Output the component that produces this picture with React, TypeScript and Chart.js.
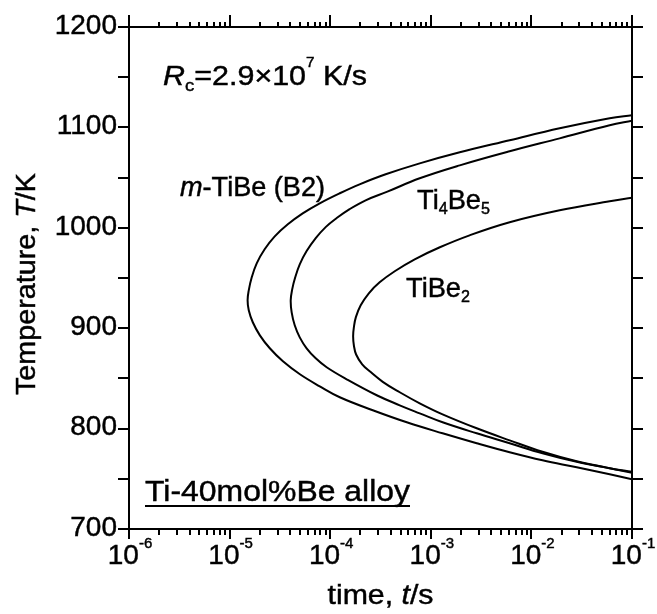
import React, { useEffect, useRef } from "react";
import { Chart, registerables } from "chart.js";

Chart.register(...registerables);

// ---- Data (time in s, temperature in K) ----
// m-TiBe (B2): upper branch (long time -> nose) then lower branch (nose -> long time)
const b2Time = [0.1, 0.06, 0.0191, 0.00608, 0.00194, 7.76e-4, 3.56e-4, 1.96e-4, 1.245e-4, 7.87e-5, 5.33e-5, 3.79e-5, 2.81e-5, 2.23e-5, 1.86e-5, 1.66e-5, 1.55e-5, 1.51e-5, 1.55e-5, 1.7e-5, 2.0e-5, 2.51e-5, 3.39e-5, 5.0e-5, 7.87e-5, 1.245e-4, 2.65e-4, 5.77e-4, 1.31e-3, 2.86e-3, 6.08e-3, 0.0129, 0.0282, 0.06, 0.1];
const b2Temp = [1112.1, 1109.1, 1099.1, 1087.2, 1075.2, 1064.2, 1053.3, 1043.3, 1034.4, 1024.4, 1014.4, 1003.5, 991.5, 978.6, 964.6, 950.7, 937.7, 927.8, 917.8, 905.9, 892.9, 880.0, 867.0, 854.1, 842.1, 831.2, 818.3, 806.3, 795.3, 785.4, 776.4, 768.4, 761.5, 754.5, 749.5];

// Ti4Be5
const ti4be5Time = [0.1, 0.06, 0.0191, 0.00608, 0.00194, 7.76e-4, 3.7e-4, 2.25e-4, 1.56e-4, 1.16e-4, 9.01e-5, 7.18e-5, 5.83e-5, 4.98e-5, 4.49e-5, 4.19e-5, 4.05e-5, 4.14e-5, 4.44e-5, 4.98e-5, 5.83e-5, 7.18e-5, 9.22e-5, 1.46e-4, 2.9e-4, 4.91e-4, 7.76e-4, 1.31e-3, 2.86e-3, 6.08e-3, 0.0129, 0.0282, 0.06, 0.1];
const ti4be5Temp = [1106.6, 1102.1, 1089.1, 1076.2, 1062.2, 1049.3, 1036.0, 1027.4, 1018.6, 1009.7, 1000.7, 989.7, 976.8, 963.6, 950.7, 938.7, 927.8, 915.8, 902.9, 890.9, 880.0, 870.0, 861.1, 849.1, 833.2, 823.2, 815.2, 806.3, 795.3, 785.4, 775.4, 766.9, 760.5, 756.0];

// TiBe2
const tibe2Time = [0.1, 0.06, 0.0191, 0.00608, 0.00243, 0.00123, 6.92e-4, 4.38e-4, 3.1e-4, 2.42e-4, 2.01e-4, 1.8e-4, 1.72e-4, 1.69e-4, 1.72e-4, 1.81e-4, 2.08e-4, 2.47e-4, 3.33e-4, 4.91e-4, 7.76e-4, 1.31e-3, 2.86e-3, 6.08e-3, 0.0129, 0.0282, 0.06, 0.1];
const tibe2Temp = [1029.9, 1026.4, 1017.4, 1005.5, 992.5, 980.6, 968.6, 956.7, 945.7, 934.8, 922.8, 911.0, 901.0, 892.0, 882.8, 873.8, 864.0, 857.1, 846.6, 836.2, 825.2, 814.2, 800.3, 788.3, 776.9, 767.4, 760.5, 756.9];

// ---- Axes ----
const xMin = 1e-6;
const xMax = 1e-1;
const xDecades = [-6, -5, -4, -3, -2, -1];
const yMin = 700;
const yMax = 1200;
const yMajorTicks = [700, 800, 900, 1000, 1100, 1200];
const yMinorTicks = [750, 850, 950, 1050, 1150];

const FONT = '"Liberation Sans", Arial, Helvetica, sans-serif';
const TEXT_STROKE = 0.45;

type Part = { text: string; size: number; italic?: boolean; dy?: number };

function setFont(ctx: CanvasRenderingContext2D, p: Part) {
  ctx.font = `${p.italic ? "italic " : ""}${p.size}px ${FONT}`;
}

function partsWidth(ctx: CanvasRenderingContext2D, parts: Part[]) {
  let w = 0;
  for (const p of parts) {
    setFont(ctx, p);
    w += ctx.measureText(p.text).width;
  }
  return w;
}

function drawParts(
  ctx: CanvasRenderingContext2D,
  parts: Part[],
  x: number,
  y: number,
  targetWidth?: number
) {
  const natural = partsWidth(ctx, parts);
  const sx = targetWidth ? targetWidth / natural : 1;
  ctx.save();
  ctx.translate(x, y);
  ctx.scale(sx, 1);
  ctx.textAlign = "left";
  ctx.textBaseline = "alphabetic";
  ctx.lineWidth = TEXT_STROKE;
  let cx = 0;
  for (const p of parts) {
    setFont(ctx, p);
    ctx.fillText(p.text, cx, p.dy || 0);
    ctx.strokeText(p.text, cx, p.dy || 0);
    cx += ctx.measureText(p.text).width;
  }
  ctx.restore();
  return natural * sx;
}

const decorPlugin = {
  id: "decor",
  afterDatasetsDraw(chart: any) {
    const { ctx, chartArea: a, scales } = chart;
    const xs = scales.x;
    const ys = scales.y;
    ctx.save();
    ctx.strokeStyle = "#000";
    ctx.fillStyle = "#000";
    ctx.lineWidth = 2;
    ctx.lineCap = "butt";

    // frame
    ctx.strokeRect(a.left, a.top, a.right - a.left, a.bottom - a.top);

    // ticks
    ctx.beginPath();
    for (const v of [...yMajorTicks, ...yMinorTicks]) {
      const py = Math.round(ys.getPixelForValue(v));
      ctx.moveTo(a.left - 11, py);
      ctx.lineTo(a.left, py);
      ctx.moveTo(a.right, py);
      ctx.lineTo(a.right + 11, py);
    }
    for (const d of xDecades) {
      for (let m = 1; m <= 9; m++) {
        const v = m * Math.pow(10, d);
        if (v > xMax * 1.0001) break;
        const px = Math.round(xs.getPixelForValue(v));
        const major = m === 1;
        ctx.moveTo(px, a.bottom);
        ctx.lineTo(px, a.bottom + (major ? 10 : 6));
        ctx.moveTo(px, a.top);
        ctx.lineTo(px, a.top - (major ? 12 : 5));
      }
    }
    ctx.stroke();

    // y tick labels
    ctx.font = `28px ${FONT}`;
    ctx.textAlign = "right";
    ctx.textBaseline = "middle";
    ctx.lineWidth = TEXT_STROKE;
    for (const v of yMajorTicks) {
      const py = ys.getPixelForValue(v) - 1;
      ctx.fillText(String(v), a.left - 12, py);
      ctx.strokeText(String(v), a.left - 12, py);
    }
    ctx.lineWidth = 2;

    // x tick labels 10^n
    for (const d of xDecades) {
      const parts: Part[] = [
        { text: "10", size: 28 },
        { text: String(d), size: 15, dy: -16 },
      ];
      const w = partsWidth(ctx, parts);
      const px = xs.getPixelForValue(Math.pow(10, d));
      drawParts(ctx, parts, px - w / 2 + 1, a.bottom + 35);
    }

    // axis titles
    drawParts(
      ctx,
      [
        { text: "time, ", size: 27 },
        { text: "t", size: 27, italic: true },
        { text: "/s", size: 27 },
      ],
      (a.left + a.right) / 2 - 53,
      604,
      106
    );
    ctx.save();
    ctx.translate(35, 284);
    ctx.rotate(-Math.PI / 2);
    drawParts(
      ctx,
      [
        { text: "Temperature, ", size: 27 },
        { text: "T", size: 27, italic: true },
        { text: "/K", size: 27 },
      ],
      -111,
      0,
      222
    );
    ctx.restore();

    // annotations
    drawParts(
      ctx,
      [
        { text: "R", size: 28, italic: true },
        { text: "c", size: 17, dy: 6 },
        { text: "=2.9×10", size: 28 },
        { text: "7", size: 14, dy: -18 },
        { text: " K/s", size: 28 },
      ],
      163,
      85,
      204
    );
    drawParts(
      ctx,
      [
        { text: "m", size: 27, italic: true },
        { text: "-TiBe (B2)", size: 27 },
      ],
      180,
      196,
      145
    );
    drawParts(
      ctx,
      [
        { text: "Ti", size: 27 },
        { text: "4", size: 16, dy: 5 },
        { text: "Be", size: 27 },
        { text: "5", size: 16, dy: 5 },
      ],
      417,
      209,
      73
    );
    drawParts(
      ctx,
      [
        { text: "TiBe", size: 27 },
        { text: "2", size: 16, dy: 5 },
      ],
      406,
      297,
      64
    );
    drawParts(ctx, [{ text: "Ti-40mol%Be alloy", size: 29 }], 145, 501, 265);
    ctx.lineWidth = 2;
    ctx.beginPath();
    ctx.moveTo(145, 506);
    ctx.lineTo(410, 506);
    ctx.stroke();

    ctx.restore();
  },
};

function toPoints(xs: number[], ys: number[]) {
  return xs.map((x, i) => ({ x, y: ys[i] }));
}

export default function App() {
  const canvasRef = useRef<HTMLCanvasElement | null>(null);

  useEffect(() => {
    const canvas = canvasRef.current;
    if (!canvas) return;
    const lineStyle = {
      borderColor: "#000",
      borderWidth: 2,
      pointRadius: 0,
      pointHoverRadius: 0,
      showLine: true,
      fill: false,
      tension: 0.4,
    };
    const chart = new Chart(canvas, {
      type: "scatter",
      data: {
        datasets: [
          { label: "m-TiBe (B2)", data: toPoints(b2Time, b2Temp), ...lineStyle },
          { label: "Ti4Be5", data: toPoints(ti4be5Time, ti4be5Temp), ...lineStyle },
          { label: "TiBe2", data: toPoints(tibe2Time, tibe2Temp), ...lineStyle },
        ],
      },
      options: {
        responsive: false,
        animation: false,
        devicePixelRatio: 1,
        layout: { padding: { left: 129, right: 25, top: 27, bottom: 85 } },
        plugins: { legend: { display: false }, tooltip: { enabled: false } },
        events: [],
        scales: {
          x: { type: "logarithmic", min: xMin, max: xMax, display: false },
          y: { type: "linear", min: yMin, max: yMax, display: false },
        },
      },
      plugins: [decorPlugin],
    } as any);
    return () => chart.destroy();
  }, []);

  return (
    <div style={{ position: "absolute", left: 0, top: 0, width: 657, height: 614, background: "#fff" }}>
      <canvas ref={canvasRef} width={657} height={614} style={{ display: "block" }} />
    </div>
  );
}
